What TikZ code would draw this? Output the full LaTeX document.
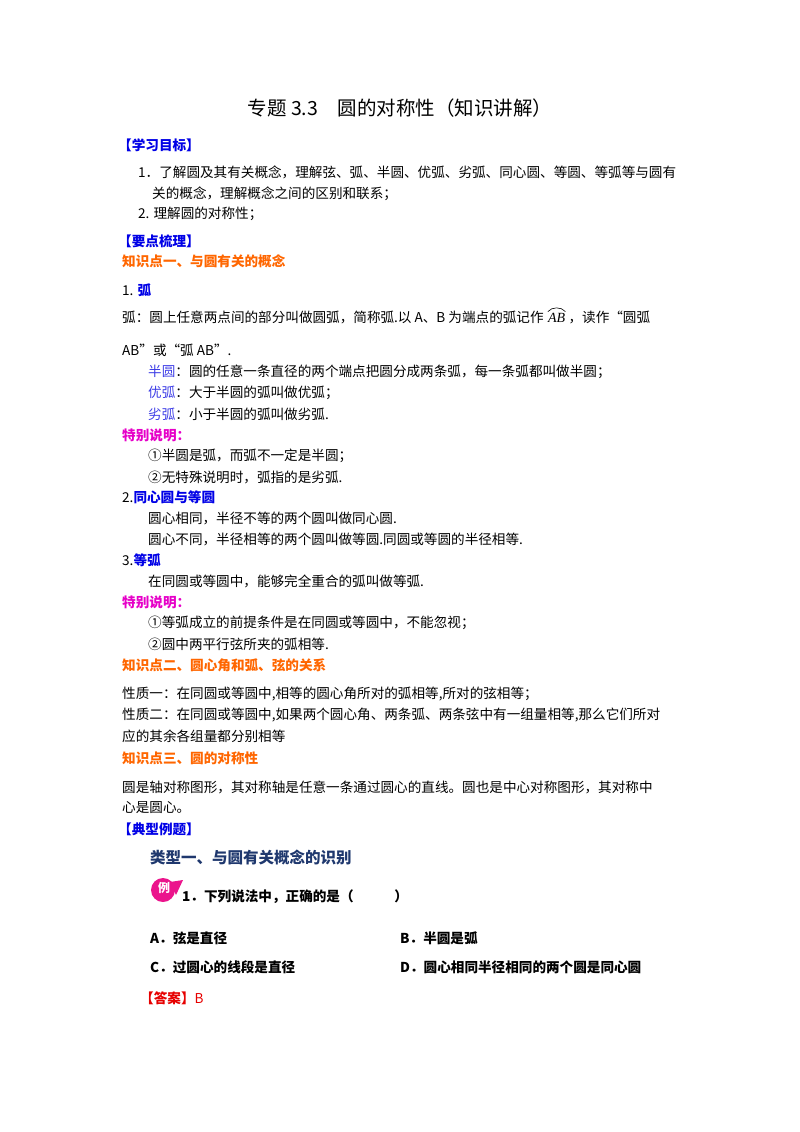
\documentclass[tikz,border=0pt]{standalone}
\usepackage{fontspec}
\setmainfont{Noto Sans CJK SC}
\newfontfamily\latinserif{Liberation Serif}
\definecolor{kblue}{RGB}{0,0,230}
\definecolor{kor}{RGB}{255,102,0}
\definecolor{kmag}{RGB}{230,0,200}
\definecolor{klb}{RGB}{60,60,230}
\definecolor{knavy}{RGB}{31,56,110}
\definecolor{kred}{RGB}{230,0,0}
\definecolor{kpink}{RGB}{235,20,140}
\begin{document}
\begin{tikzpicture}[x=1pt,y=-1pt,
  t/.style={anchor=west,inner sep=0pt,font=\fontsize{13.6}{15}\selectfont},
  hb/.style={t,font=\fontsize{13.6}{15}\selectfont\bfseries,text=kblue},
  ho/.style={t,font=\fontsize{13.6}{15}\selectfont\bfseries,text=kor},
  hm/.style={t,font=\fontsize{13.6}{15}\selectfont\bfseries,text=kmag},
  bt/.style={t,font=\fontsize{13.6}{15}\selectfont\bfseries}]
\useasboundingbox (0,0) rectangle (800,1132);
\node[inner sep=0pt,font=\fontsize{19.5}{22}\selectfont] (title) at (400,108) {专题 3.3\quad 圆的对称性（知识讲解）};
\node[hb] (h1) at (118,145) {【学习目标】};
\node[t] (l1) at (138,172) {1．了解圆及其有关概念，理解弦、弧、半圆、优弧、劣弧、同心圆、等圆、等弧等与圆有};
\node[t] (l2) at (152,194) {关的概念，理解概念之间的区别和联系；};
\node[t] (l3) at (138,214) {2. 理解圆的对称性；};
\node[hb] (h2) at (118,241) {【要点梳理】};
\node[ho] (k1) at (122,261) {知识点一、与圆有关的概念};
\node[t] (s1) at (122,290) {1. \textcolor{kblue}{\bfseries 弧}};
\node[t] (a1) at (122,317) {弧：圆上任意两点间的部分叫做圆弧，简称弧.以 A、B 为端点的弧记作};
\node[anchor=base west,inner sep=0pt,font=\fontsize{14}{15}\latinserif\itshape] (ab) at ([xshift=4pt]a1.base east) {AB};
\node[anchor=base west,inner sep=0pt,font=\fontsize{13.6}{15}\selectfont] (a1b) at ([xshift=3pt]ab.base east) {，读作“圆弧};
\draw[line width=0.6pt] ([xshift=0pt,yshift=1pt]ab.north west) .. controls ([xshift=4pt,yshift=6pt]ab.north west) and ([xshift=-4pt,yshift=6pt]ab.north east) .. ([xshift=0pt,yshift=1pt]ab.north east);
\node[t] (a2) at (122,350) {AB”或“弧 AB”.};
\node[t] (a3) at (148,372) {\textcolor{klb}{半圆}：圆的任意一条直径的两个端点把圆分成两条弧，每一条弧都叫做半圆；};
\node[t] (a4) at (148,393) {\textcolor{klb}{优弧}：大于半圆的弧叫做优弧；};
\node[t] (a5) at (148,414) {\textcolor{klb}{劣弧}：小于半圆的弧叫做劣弧.};
\node[hm] (sp1) at (122,435) {特别说明：};
\node[t] (b1) at (148,456) {①半圆是弧，而弧不一定是半圆；};
\node[t] (b2) at (148,477) {②无特殊说明时，弧指的是劣弧.};
\node[t] (s2) at (122,497) {2.\textcolor{kblue}{\bfseries 同心圆与等圆}};
\node[t] (c1) at (148,518) {圆心相同，半径不等的两个圆叫做同心圆.};
\node[t] (c2) at (148,539) {圆心不同，半径相等的两个圆叫做等圆.同圆或等圆的半径相等.};
\node[t] (s3) at (122,560) {3.\textcolor{kblue}{\bfseries 等弧}};
\node[t] (d1) at (148,581) {在同圆或等圆中，能够完全重合的弧叫做等弧.};
\node[hm] (sp2) at (122,602) {特别说明：};
\node[t] (e1) at (148,623) {①等弧成立的前提条件是在同圆或等圆中，不能忽视；};
\node[t] (e2) at (148,644) {②圆中两平行弦所夹的弧相等.};
\node[ho] (k2) at (122,665) {知识点二、圆心角和弧、弦的关系};
\node[t] (f1) at (122,694) {性质一：在同圆或等圆中,相等的圆心角所对的弧相等,所对的弦相等；};
\node[t] (f2) at (122,715) {性质二：在同圆或等圆中,如果两个圆心角、两条弧、两条弦中有一组量相等,那么它们所对};
\node[t] (f3) at (122,736) {应的其余各组量都分别相等};
\node[ho] (k3) at (122,758) {知识点三、圆的对称性};
\node[t] (g1) at (122,787) {圆是轴对称图形，其对称轴是任意一条通过圆心的直线。圆也是中心对称图形，其对称中};
\node[t] (g2) at (122,808) {心是圆心。};
\node[hb] (h3) at (118,829) {【典型例题】};
\node[t,font=\fontsize{15.5}{18}\selectfont\bfseries,text=knavy] (ty) at (150,858) {类型一、与圆有关概念的识别};
\fill[kpink] (163,890) circle (12);
\fill[kpink] (170,882) -- (183,880) -- (176,895) -- cycle;
\node[inner sep=0pt,text=white,font=\fontsize{12}{14}\selectfont\bfseries] (li) at (164,888) {例};
\node[bt] (q) at (182,897) {1．下列说法中，正确的是（\qquad\quad ）};
\node[bt] (oa) at (150,938) {A．弦是直径};
\node[bt] (ob) at (400,938) {B．半圆是弧};
\node[bt] (oc) at (150,967) {C．过圆心的线段是直径};
\node[bt] (od) at (400,967) {D．圆心相同半径相同的两个圆是同心圆};
\node[t,text=kred] (ans) at (140,998) {\textbf{【答案】}B};
\end{tikzpicture}
\end{document}
